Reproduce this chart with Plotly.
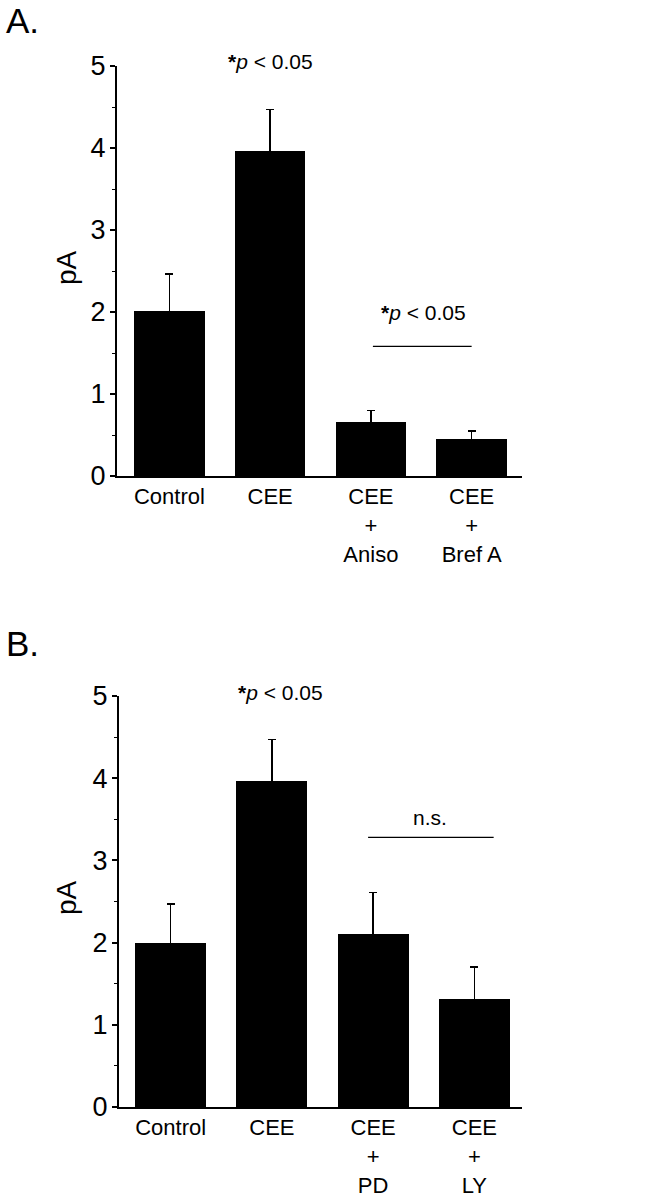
import plotly.graph_objects as go

# ---- data ----
cats_a = ["Control", "CEE", "CEE<br>+<br>Aniso", "CEE<br>+<br>Bref A"]
mean_a = [2.01, 3.96, 0.66, 0.45]
sem_a = [0.45, 0.51, 0.14, 0.10]

cats_b = ["Control", "CEE", "CEE<br>+<br>PD", "CEE<br>+<br>LY"]
mean_b = [2.00, 3.96, 2.11, 1.31]
sem_b = [0.47, 0.51, 0.50, 0.39]

y_ticks = [0, 1, 2, 3, 4, 5]
sig_text = "<b>*</b><i>p</i> &lt; 0.05"
ns_text = "n.s."

FONT = "Liberation Sans, Arial, sans-serif"
H = 1200.0
W = 648.0

fig = go.Figure()
pos = list(range(4))

for i, (cats, means, sems) in enumerate([(cats_a, mean_a, sem_a), (cats_b, mean_b, sem_b)]):
    xa = "x" if i == 0 else "x2"
    ya = "y" if i == 0 else "y2"
    fig.add_trace(go.Bar(
        x=pos, y=means, xaxis=xa, yaxis=ya, width=0.7,
        marker=dict(color="black", line=dict(width=0)),
        error_y=dict(type="data", array=sems, symmetric=True,
                     color="black", thickness=1.7, width=4),
        showlegend=False,
    ))

common_y = dict(range=[0, 5], tickvals=y_ticks, showline=True, linecolor="black", linewidth=2,
                ticks="outside", ticklen=5, tickwidth=1.5, tickcolor="black",
                ticklabelstandoff=-1,
                minor=dict(dtick=0.5, ticks="outside", ticklen=3, tickcolor="black", tickwidth=1.2),
                showgrid=False, zeroline=False, automargin=False,
                tickfont=dict(family=FONT, size=27, color="black"))
common_x = dict(showline=True, linecolor="black", linewidth=2, ticks="", showgrid=False,
                zeroline=False, automargin=False,
                tickfont=dict(family=FONT, size=22, color="black"))

fig.update_layout(
    width=648, height=1200, margin=dict(l=0, r=0, t=0, b=0, autoexpand=False),
    plot_bgcolor="white", paper_bgcolor="white", bargap=0,
    xaxis=dict(domain=[117 / W, 522 / W], range=[-0.52, 3.5], anchor="y",
               tickvals=pos, ticktext=cats_a, **common_x),
    yaxis=dict(domain=[1 - 476 / H, 1 - 66 / H], anchor="x", **common_y),
    xaxis2=dict(domain=[119 / W, 522 / W], range=[-0.51, 3.47], anchor="y2",
                tickvals=pos, ticktext=cats_b, **common_x),
    yaxis2=dict(domain=[1 - 1107 / H, 1 - 696 / H], anchor="x2", **common_y),
)

# significance lines
fig.add_shape(type="line", xref="x", yref="y", x0=2.02, x1=3.0, y0=1.58, y1=1.58,
              line=dict(color="black", width=1.3))
fig.add_shape(type="line", xref="x2", yref="y2", x0=1.95, x1=3.19, y0=3.28, y1=3.28,
              line=dict(color="black", width=1.3))

annots = [
    dict(text=sig_text, xref="x", yref="paper", x=1, y=1 - 62 / H),
    dict(text=sig_text, xref="x", yref="paper", x=2.52, y=1 - 313 / H),
    dict(text=sig_text, xref="x2", yref="paper", x=1.08, y=1 - 692 / H),
    dict(text=ns_text, xref="x2", yref="paper", x=2.56, y=1 - 817 / H),
]
for a in annots:
    fig.add_annotation(showarrow=False, xanchor="center", yanchor="middle",
                       font=dict(family=FONT, size=21, color="black"), **a)

# y titles
for yc in (268, 898):
    fig.add_annotation(text="pA", xref="paper", yref="paper", x=66 / W, y=1 - yc / H,
                       xanchor="center", yanchor="middle",
                       textangle=-90, showarrow=False, font=dict(family=FONT, size=28, color="black"))

# panel labels
for lab, yc in (("A.", 20), ("B.", 643)):
    fig.add_annotation(text=lab, xref="paper", yref="paper", x=4 / W, y=1 - yc / H,
                       xanchor="left", yanchor="middle", showarrow=False,
                       font=dict(family=FONT, size=35, color="black"))

fig.write_html(
    "out.html",
    config={"displayModeBar": False},
    post_script=(
        "document.documentElement.style.margin='0';"
        "document.body.style.margin='0';document.body.style.padding='0';"
        "document.body.style.overflow='hidden';"
        "var gd=document.getElementById('{plot_id}');"
        "gd.style.position='absolute';gd.style.top='0px';gd.style.left='0px';"
    ),
)
